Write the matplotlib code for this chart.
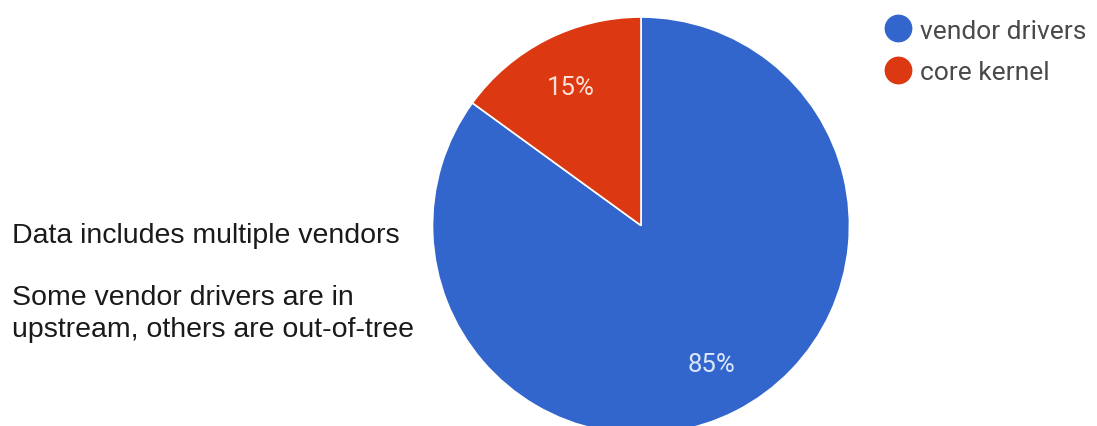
import matplotlib
matplotlib.use("Agg")
import matplotlib.pyplot as plt
from matplotlib.lines import Line2D

labels = ["vendor drivers", "core kernel"]
values = [85, 15]
colors = ["#3366CC", "#DC3912"]
note_lines = ["Data includes multiple vendors", "",
              "Some vendor drivers are in", "upstream, others are out-of-tree"]

W, H = 1097, 427
fig = plt.figure(figsize=(W / 100, H / 100), dpi=100)
fig.patch.set_facecolor("white")

cx, cy, r = 641, 226.5, 208.5
ax = fig.add_axes([(cx - r) / W, (H - cy - r) / H, 2 * r / W, 2 * r / H])
wedges, texts, autotexts = ax.pie(
    values, colors=colors, startangle=90, counterclock=False,
    autopct=lambda p: f"{p:.0f}%", pctdistance=0.745,
    wedgeprops=dict(edgecolor="white", linewidth=1.2),
    textprops=dict(color="#f2e6e0", fontsize=18.5, family="Roboto"),
)
autotexts[0].set_color("#dbe6fb")
autotexts[1].set_color("#fbe0d6")
ax.set_xlim(-1, 1)
ax.set_ylim(-1, 1)
ax.set_aspect("equal")
ax.axis("off")

handles = [Line2D([], [], marker="o", linestyle="none", markersize=19,
                  markerfacecolor=c, markeredgecolor=c) for c in colors]
fig.legend(handles, labels, loc="upper left", bbox_to_anchor=(870 / W, 1 - 9 / H),
           frameon=False, prop=dict(family="Roboto", size=19),
           labelcolor="#4a4a4a", handletextpad=0.2, labelspacing=0.68,
           handlelength=1.3, borderaxespad=0)

fs = 20.5
fig.text(12 / W, 1 - 243 / H, note_lines[0], fontsize=fs, family="Liberation Sans",
         color="#1a1a1a", va="baseline")
fig.text(12 / W, 1 - 305 / H, note_lines[2], fontsize=fs, family="Liberation Sans",
         color="#1a1a1a", va="baseline")
fig.text(12 / W, 1 - 337 / H, note_lines[3], fontsize=fs, family="Liberation Sans",
         color="#1a1a1a", va="baseline")

fig.savefig("out.png", dpi=100, facecolor="white")
